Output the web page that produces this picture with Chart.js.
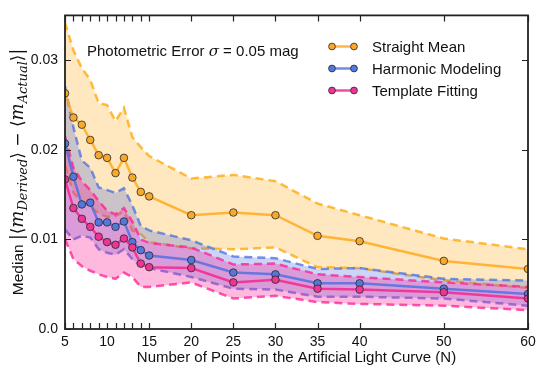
<!DOCTYPE html>
<html>
<head>
<meta charset="utf-8">
<script src="https://cdn.jsdelivr.net/npm/chart.js@4.4.1/dist/chart.umd.min.js"></script>
<style>
  html, body { margin: 0; padding: 0; background: #fff; }
  canvas { display: block; }
</style>
</head>
<body>
<canvas id="errChart" width="548" height="377"></canvas>
<script>
// Puntos de la curva de luz artificial (eje x)
const nPts = [5, 6, 7, 8, 9, 10, 11, 12, 13, 14, 15, 20, 25, 30, 35, 40, 50, 60];
const xTickLabels = [5, 10, 15, 20, 25, 30, 35, 40, 50, 60];
const yTicks = [0, 0.01, 0.02, 0.03];

// Straight Mean
const meanMed = [0.0263, 0.0236, 0.0228, 0.0211, 0.0194, 0.0191, 0.0174, 0.0191, 0.0169, 0.0153, 0.0148, 0.0127, 0.0130, 0.0127, 0.0104, 0.0098, 0.0076, 0.0067];
const meanHi  = [0.0342, 0.0311, 0.0291, 0.0278, 0.0252, 0.0250, 0.0232, 0.0247, 0.0214, 0.0203, 0.0193, 0.0168, 0.0172, 0.0165, 0.0140, 0.0127, 0.0101, 0.0089];
const meanLo  = [0.0182, 0.0152, 0.0142, 0.0137, 0.0129, 0.0125, 0.0126, 0.0131, 0.0110, 0.0106, 0.0097, 0.0090, 0.0089, 0.0091, 0.0069, 0.0068, 0.0054, 0.0046];

// Harmonic Modeling
const harmMed = [0.0207, 0.0170, 0.0139, 0.0141, 0.0119, 0.0119, 0.0114, 0.0120, 0.0097, 0.0088, 0.0082, 0.0077, 0.0063, 0.0061, 0.0051, 0.0051, 0.0045, 0.0039];
const harmHi  = [0.0271, 0.0225, 0.0188, 0.0180, 0.0158, 0.0155, 0.0152, 0.0157, 0.0138, 0.0115, 0.0110, 0.0099, 0.0081, 0.0079, 0.0067, 0.0068, 0.0056, 0.0054];
const harmLo  = [0.0111, 0.0100, 0.0104, 0.0102, 0.0089, 0.0085, 0.0083, 0.0089, 0.0078, 0.0070, 0.0068, 0.0058, 0.0045, 0.0044, 0.0036, 0.0036, 0.0034, 0.0026];

// Template Fitting
const tmplMed = [0.0167, 0.0135, 0.0123, 0.0114, 0.0103, 0.0097, 0.0094, 0.0101, 0.0091, 0.0073, 0.0069, 0.0068, 0.0052, 0.0055, 0.0045, 0.0044, 0.0041, 0.0034];
const tmplHi  = [0.0215, 0.0180, 0.0165, 0.0155, 0.0143, 0.0132, 0.0128, 0.0135, 0.0120, 0.0100, 0.0096, 0.0091, 0.0072, 0.0073, 0.0061, 0.0058, 0.0052, 0.0047];
const tmplLo  = [0.0100, 0.0078, 0.0070, 0.0065, 0.0061, 0.0058, 0.0056, 0.0063, 0.0058, 0.0047, 0.0047, 0.0052, 0.0034, 0.0037, 0.0030, 0.0028, 0.0026, 0.0021];

const seriesNames = ['Straight Mean', 'Harmonic Modeling', 'Template Fitting'];

const lineCol = ['rgba(255,170,30,0.85)', 'rgba(75,110,225,0.8)', 'rgba(245,40,145,0.85)'];
const dashCol = ['rgba(255,165,0,0.75)', 'rgba(75,110,225,0.75)', 'rgba(255,30,145,0.75)'];
const fillCol = ['rgba(255,165,0,0.25)', 'rgba(65,105,225,0.28)', 'rgba(255,20,147,0.3)'];
const markCol = ['#f8a928', '#5577dd', '#ee3595'];

const pts = arr => arr.map((v, i) => ({ x: nPts[i], y: v }));

function band(hi, lo, k, ord) {
  return [
    { data: pts(hi), borderColor: dashCol[k], borderWidth: 2.5, borderDash: [8, 5],
      pointRadius: 0, fill: '+1', backgroundColor: fillCol[k], tension: 0, order: ord },
    { data: pts(lo), borderColor: dashCol[k], borderWidth: 2.5, borderDash: [8, 5],
      pointRadius: 0, fill: false, tension: 0, order: ord - 1 }
  ];
}

function median(vals, k, ord) {
  return { data: pts(vals), borderColor: lineCol[k], borderWidth: 2.5, pointRadius: 3.8,
    pointBackgroundColor: markCol[k], pointBorderColor: 'rgba(40,40,40,0.8)', pointBorderWidth: 1,
    fill: false, tension: 0, order: ord };
}

// ejes, marco, textos y leyenda dibujados a mano
const decor = {
  id: 'decor',
  afterDraw(chart) {
    const ctx = chart.ctx;
    const a = chart.chartArea;
    const xs = chart.scales.x, ys = chart.scales.y;
    ctx.save();
    ctx.strokeStyle = '#222';
    ctx.lineWidth = 1.2;
    ctx.beginPath();
    nPts.forEach(v => {
      const px = Math.round(xs.getPixelForValue(v)) + 0.5;
      ctx.moveTo(px, a.bottom); ctx.lineTo(px, a.bottom - 6);
      ctx.moveTo(px, a.top); ctx.lineTo(px, a.top + 6);
    });
    yTicks.forEach(v => {
      const py = Math.round(ys.getPixelForValue(v)) + 0.5;
      ctx.moveTo(a.left, py); ctx.lineTo(a.left + 6, py);
      ctx.moveTo(a.right, py); ctx.lineTo(a.right - 6, py);
    });
    ctx.stroke();
    ctx.lineWidth = 1.8;
    ctx.strokeRect(a.left, a.top, a.right - a.left, a.bottom - a.top);

    ctx.fillStyle = '#111';
    // título del eje x
    ctx.font = '15px "Liberation Sans", Arial, sans-serif';
    ctx.textAlign = 'center';
    ctx.textBaseline = 'alphabetic';
    ctx.fillText('Number of Points in the Artificial Light Curve (N)', (a.left + a.right) / 2, 362);

    // título del eje y con subíndices
    const parts = [
      { t: 'Median ', f: '15.5px "Liberation Sans", Arial, sans-serif', dy: 0 },
      { t: '|\u27E8', f: '17px "DejaVu Sans", sans-serif', dy: 0 },
      { t: 'm', f: 'italic 18px "DejaVu Serif", serif', dy: 0 },
      { t: 'Derived', f: 'italic 13px "DejaVu Serif", serif', dy: 3.5 },
      { t: '\u27E9 \u2212 \u27E8', f: '17px "DejaVu Sans", sans-serif', dy: 0 },
      { t: 'm', f: 'italic 18px "DejaVu Serif", serif', dy: 0 },
      { t: 'Actual', f: 'italic 13px "DejaVu Serif", serif', dy: 3.5 },
      { t: '\u27E9|', f: '17px "DejaVu Sans", sans-serif', dy: 0 }
    ];
    let total = 0;
    parts.forEach(p => { ctx.font = p.f; p.w = ctx.measureText(p.t).width; total += p.w; });
    ctx.translate(23, 172);
    ctx.rotate(-Math.PI / 2);
    ctx.textAlign = 'left';
    let cx = -total / 2;
    parts.forEach(p => { ctx.font = p.f; ctx.fillText(p.t, cx, p.dy); cx += p.w; });
    ctx.setTransform(1, 0, 0, 1, 0, 0);

    // anotación
    ctx.textAlign = 'left';
    ctx.font = '15px "Liberation Sans", Arial, sans-serif';
    let tx = 87;
    const ty = 56;
    const seg = [['Photometric Error ', ctx.font], ['\u03C3', 'italic 15px "DejaVu Serif", serif'], [' = 0.05 mag', '15px "Liberation Sans", Arial, sans-serif']];
    seg.forEach(s => { ctx.font = s[1]; ctx.fillText(s[0], tx, ty); tx += ctx.measureText(s[0]).width; });

    // leyenda
    ctx.font = '15px "Liberation Sans", Arial, sans-serif';
    ctx.textBaseline = 'middle';
    seriesNames.forEach((name, k) => {
      const yy = 46.5 + k * 22;
      ctx.strokeStyle = lineCol[k];
      ctx.lineWidth = 2.5;
      ctx.beginPath(); ctx.moveTo(332, yy); ctx.lineTo(354, yy); ctx.stroke();
      [332, 354].forEach(mx => {
        ctx.beginPath(); ctx.arc(mx, yy, 3.4, 0, Math.PI * 2);
        ctx.fillStyle = markCol[k]; ctx.fill();
        ctx.strokeStyle = 'rgba(40,40,40,0.8)'; ctx.lineWidth = 1; ctx.stroke();
      });
      ctx.fillStyle = '#111';
      ctx.fillText(name, 372, yy + 1);
    });
    ctx.restore();
  }
};

new Chart(document.getElementById('errChart'), {
  type: 'line',
  data: {
    datasets: [
      ...band(meanHi, meanLo, 0, 20),
      ...band(harmHi, harmLo, 1, 16),
      ...band(tmplHi, tmplLo, 2, 12),
      median(meanMed, 0, 3),
      median(harmMed, 1, 2),
      median(tmplMed, 2, 1)
    ]
  },
  options: {
    responsive: false,
    devicePixelRatio: 1,
    animation: false,
    layout: { padding: { top: 10, right: 20, left: 0, bottom: 0 } },
    plugins: { legend: { display: false }, tooltip: { enabled: false }, filler: { propagate: false } },
    scales: {
      x: {
        type: 'linear', min: 5, max: 60,
        grid: { display: false, drawTicks: false },
        border: { display: false },
        afterBuildTicks: s => { s.ticks = nPts.map(v => ({ value: v })); },
        afterFit: s => { s.height = 48; },
        ticks: {
          autoSkip: false, maxRotation: 0, padding: 5, color: '#111',
          font: { family: '"Liberation Sans", Arial, sans-serif', size: 14 },
          callback: v => xTickLabels.includes(v) ? String(v) : ''
        }
      },
      y: {
        min: 0, max: 0.035,
        grid: { display: false, drawTicks: false },
        border: { display: false },
        afterBuildTicks: s => { s.ticks = yTicks.map(v => ({ value: v })); },
        afterFit: s => { s.width = 65; },
        ticks: {
          padding: 7, color: '#111',
          font: { family: '"Liberation Sans", Arial, sans-serif', size: 14 },
          callback: v => v === 0 ? '0.0' : v.toFixed(2)
        }
      }
    }
  },
  plugins: [decor]
});
</script>
</body>
</html>
